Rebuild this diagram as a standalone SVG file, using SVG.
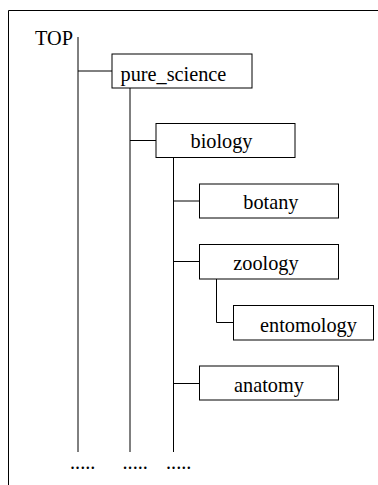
<svg xmlns="http://www.w3.org/2000/svg" width="378" height="485" viewBox="0 0 378 485">
<style>
  .box { fill: #fff; stroke: #000; stroke-width: 1; }
  .ln { fill: none; stroke: #000; stroke-width: 1; }
</style>
<rect x="0" y="0" width="378" height="485" fill="#fff"/>
<path class="ln" d="M8.5,485 V10.5 H378"/>
<g id="connectors">
  <path class="ln" d="M78,37 V452 M78,71 H112"/>
  <path class="ln" d="M130,88 V452 M130,140.5 H156"/>
  <path class="ln" d="M173.5,157.5 V452 M173.5,201 H199.5 M173.5,261.5 H199.5 M173.5,383.5 H199.5"/>
  <path class="ln" d="M216.5,279 V322.5 H233.5"/>
</g>
<g font-family="'Liberation Serif', 'Times New Roman', Times, serif" font-size="20.3" fill="#000">
<g id="top"><text x="35" y="45">TOP</text></g>
<g id="pure_science"><rect class="box" x="112" y="54" width="140" height="34"/><text x="120.5" y="81">pure_science</text></g>
<g id="biology"><rect class="box" x="156" y="123.5" width="139" height="34"/><text x="190.5" y="148">biology</text></g>
<g id="botany"><rect class="box" x="199.5" y="184" width="139" height="34"/><text x="243.3" y="209">botany</text></g>
<g id="zoology"><rect class="box" x="199.5" y="244.5" width="139" height="34.5"/><text x="233.3" y="269.5">zoology</text></g>
<g id="entomology"><rect class="box" x="233.5" y="305.5" width="140" height="34.5"/><text x="260" y="331.5">entomology</text></g>
<g id="anatomy"><rect class="box" x="199.5" y="366" width="139" height="34"/><text x="234" y="391.5">anatomy</text></g>
<g id="dots">
  <text x="70" y="469">.....</text>
  <text x="122.5" y="469">.....</text>
  <text x="166" y="469">.....</text>
</g>
</g>
</svg>
